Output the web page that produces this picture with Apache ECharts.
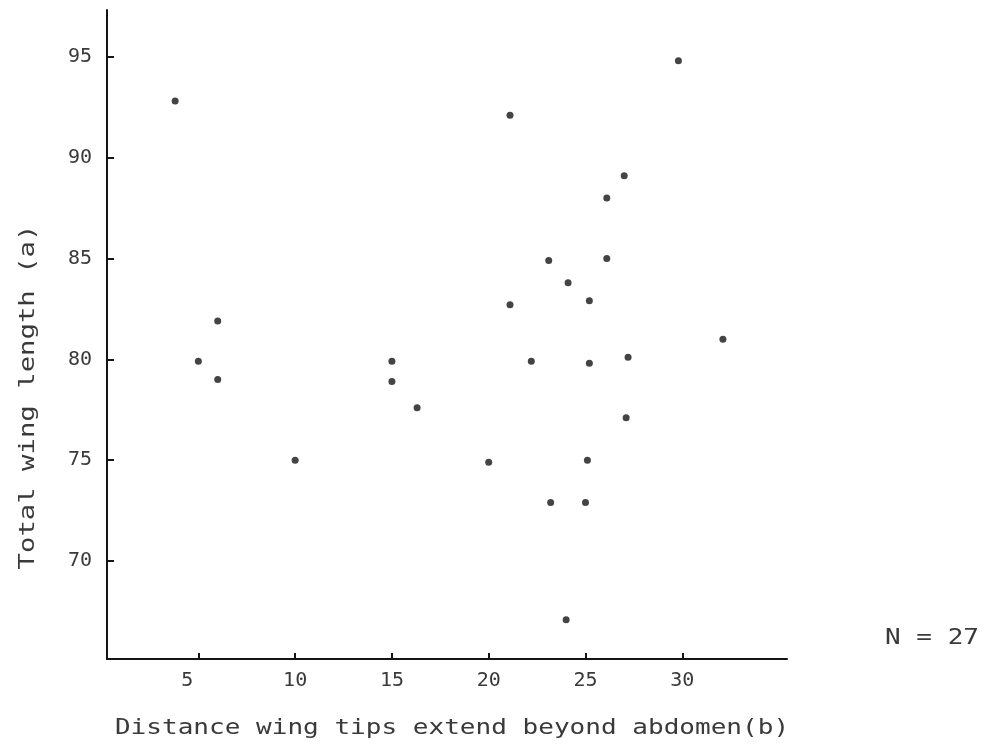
<!DOCTYPE html>
<html>
<head>
<meta charset="utf-8">
<script src="https://cdn.jsdelivr.net/npm/echarts@6/dist/echarts.min.js"></script>
<style>
  html, body { margin: 0; padding: 0; background: #ffffff; }
  #chart { width: 985px; height: 745px; }
</style>
</head>
<body>
<div id="chart"></div>
<script>
// Distance wing tips extend beyond abdomen (b)
const wingTipDistance = [3.8, 6.0, 5.0, 6.0, 10.0, 15.0, 15.0, 16.3, 20.0, 21.1, 21.1, 22.2, 23.1, 23.2, 24.0, 24.1, 25.1, 25.0, 25.2, 25.2, 26.1, 26.1, 27.0, 27.2, 27.1, 29.8, 32.1];
// Total wing length (a)
const totalWingLength = [92.8, 81.9, 79.9, 79.0, 75.0, 79.9, 78.9, 77.6, 74.9, 92.1, 82.7, 79.9, 84.9, 72.9, 67.1, 83.8, 75.0, 72.9, 82.9, 79.8, 85.0, 88.0, 89.1, 80.1, 77.1, 94.8, 81.0];
const xTicks = [5, 10, 15, 20, 25, 30];
const yTicks = [70, 75, 80, 85, 90, 95];
const xAxisTitle = 'Distance wing tips extend beyond abdomen(b)';
const yAxisTitle = 'Total wing length (a)';
const sampleNote = 'N = 27';

const mono = '"DejaVu Sans Mono", "Liberation Mono", monospace';
const textColor = '#3a3a3a';
const inkColor = '#151515';

const points = wingTipDistance.map((x, i) => [x, totalWingLength[i]]);

const chart = echarts.init(document.getElementById('chart'), null, { renderer: 'canvas' });
chart.setOption({
  backgroundColor: '#ffffff',
  animation: false,
  grid: { left: 107, right: 198, top: 10, bottom: 86, containLabel: false },
  xAxis: {
    type: 'value',
    min: 0.28,
    max: 35.41,
    splitLine: { show: false },
    axisLine: { show: true, onZero: false, lineStyle: { color: inkColor, width: 2 } },
    axisTick: { show: true, inside: true, length: 6, customValues: xTicks, lineStyle: { color: inkColor, width: 2 } },
    axisLabel: {
      customValues: xTicks,
      margin: 12,
      color: textColor,
      fontFamily: mono,
      fontSize: 20,
      formatter: v => (v === 5 ? '{s|5}' : String(v)),
      rich: { s: { padding: [0, 22, 0, 0], color: textColor, fontFamily: mono, fontSize: 20 } }
    }
  },
  yAxis: {
    type: 'value',
    min: 65.15,
    max: 97.31,
    splitLine: { show: false },
    axisLine: { show: true, onZero: false, lineStyle: { color: inkColor, width: 2 } },
    axisTick: { show: true, inside: true, length: 7, customValues: yTicks, lineStyle: { color: inkColor, width: 2 } },
    axisLabel: {
      customValues: yTicks,
      margin: 15,
      color: textColor,
      fontFamily: mono,
      fontSize: 20
    }
  },
  graphic: [
    {
      type: 'text', x: 452, y: 729, scaleX: 1.24,
      style: { text: xAxisTitle, font: '21px ' + mono, fill: textColor, align: 'center', verticalAlign: 'middle' }
    },
    {
      type: 'text', x: 28, y: 397, rotation: Math.PI / 2, scaleX: 1.24,
      style: { text: yAxisTitle, font: '22px ' + mono, fill: textColor, align: 'center', verticalAlign: 'middle' }
    },
    {
      type: 'text', x: 932, y: 639, scaleX: 1.24,
      style: { text: sampleNote, font: '21px ' + mono, fill: textColor, align: 'center', verticalAlign: 'middle' }
    }
  ],
  series: [{
    type: 'scatter',
    data: points,
    symbol: 'circle',
    symbolSize: 7,
    itemStyle: { color: inkColor }
  }]
});
</script>
</body>
</html>
